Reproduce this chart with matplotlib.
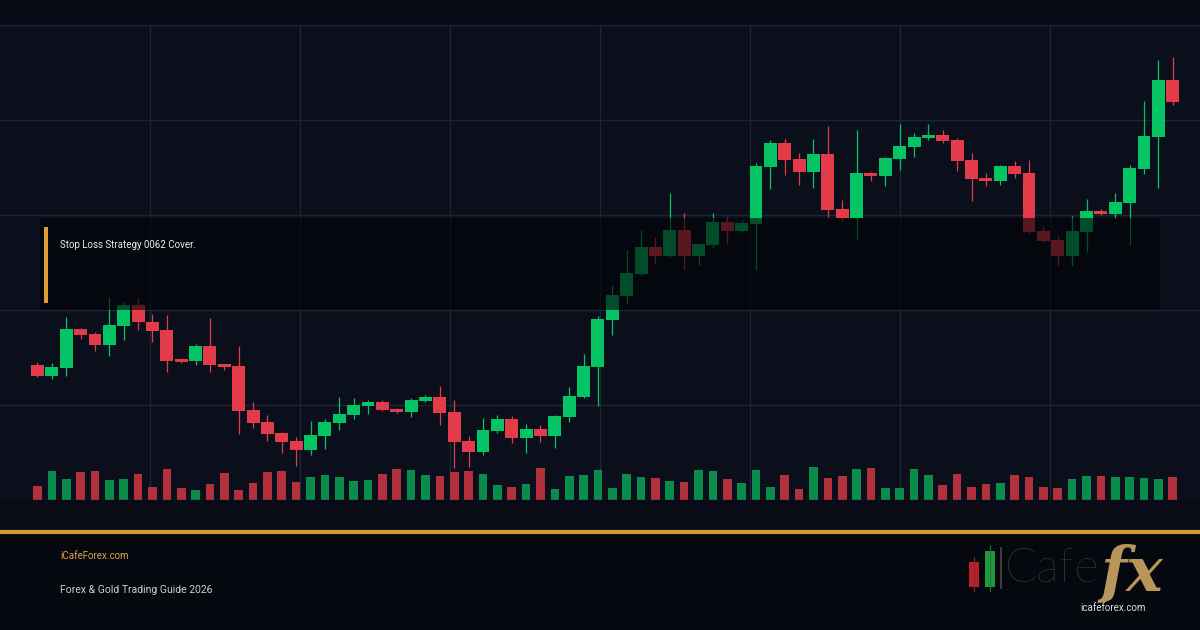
import numpy as np
import matplotlib
matplotlib.use("Agg")
import matplotlib.pyplot as plt
from matplotlib.patches import Rectangle
from matplotlib.lines import Line2D

plt.rcParams['font.family'] = ['Roboto', 'DejaVu Sans']

# candle data (price units)
opens = [2014.2, 2013.1, 2013.9, 2018.0, 2017.5, 2016.3, 2018.3, 2020.5, 2018.7, 2017.9,
         2014.8, 2014.6, 2016.2, 2014.3, 2014.1, 2009.5, 2008.2, 2007.1, 2006.2, 2005.3,
         2006.7, 2008.1, 2008.9, 2009.9, 2010.3, 2009.6, 2009.3, 2010.4, 2010.8, 2009.3,
         2006.2, 2005.1, 2007.3, 2008.5, 2006.5, 2007.5, 2006.7, 2008.7, 2010.8, 2014.0,
         2018.9, 2021.5, 2023.8, 2026.6, 2025.7, 2028.4, 2025.7, 2026.8, 2029.3, 2028.3,
         2029.1, 2035.1, 2037.6, 2035.9, 2034.5, 2036.4, 2030.6, 2029.7, 2034.4, 2034.1,
         2035.9, 2037.2, 2038.1, 2038.4, 2037.9, 2035.8, 2033.9, 2033.6, 2035.2, 2034.4,
         2028.3, 2027.4, 2025.7, 2028.2, 2030.4, 2030.1, 2031.3, 2034.8, 2038.2, 2044.2]
highs = [2014.5, 2014.4, 2019.3, 2018.1, 2017.7, 2021.4, 2020.8, 2021.3, 2019.6, 2019.5,
         2014.9, 2016.4, 2019.2, 2014.3, 2016.2, 2010.3, 2008.9, 2007.2, 2006.6, 2008.3,
         2008.5, 2010.8, 2010.7, 2010.5, 2010.5, 2009.7, 2010.7, 2011.1, 2012.0, 2010.5,
         2006.7, 2008.6, 2008.9, 2008.8, 2008.0, 2007.9, 2008.9, 2011.9, 2015.4, 2019.4,
         2022.6, 2026.3, 2028.4, 2027.7, 2032.3, 2030.2, 2027.1, 2030.2, 2029.8, 2029.5,
         2035.5, 2037.9, 2038.0, 2036.5, 2038.0, 2039.4, 2031.6, 2038.9, 2034.5, 2036.1,
         2039.6, 2038.6, 2039.6, 2038.9, 2038.1, 2036.5, 2034.4, 2035.3, 2035.7, 2035.8,
         2028.8, 2027.8, 2029.9, 2031.7, 2030.6, 2032.3, 2035.3, 2042.0, 2046.3, 2046.6]
lows = [2012.9, 2012.7, 2013.1, 2016.9, 2015.7, 2015.2, 2016.8, 2017.9, 2016.6, 2013.5,
        2014.4, 2014.2, 2013.5, 2013.7, 2006.9, 2007.6, 2006.2, 2004.9, 2003.6, 2004.7,
        2005.4, 2007.4, 2008.5, 2009.1, 2009.4, 2009.2, 2008.7, 2010.3, 2007.9, 2003.4,
        2003.5, 2004.7, 2007.1, 2006.0, 2004.9, 2006.1, 2005.5, 2008.2, 2010.7, 2009.9,
        2017.4, 2020.7, 2023.7, 2024.9, 2025.6, 2024.3, 2024.7, 2026.6, 2026.9, 2028.2,
        2024.2, 2032.7, 2034.2, 2033.2, 2032.8, 2029.8, 2029.4, 2027.4, 2033.6, 2033.1,
        2034.7, 2036.1, 2037.9, 2037.6, 2034.6, 2031.5, 2033.1, 2033.2, 2033.9, 2028.1,
        2027.2, 2024.7, 2024.6, 2026.1, 2030.0, 2029.7, 2026.8, 2034.3, 2032.8, 2041.6]
closes = [2013.1, 2014.0, 2018.0, 2017.4, 2016.3, 2018.4, 2020.5, 2018.7, 2017.8, 2014.6,
          2014.5, 2016.2, 2014.2, 2014.0, 2009.4, 2008.1, 2006.9, 2006.1, 2005.3, 2006.8,
          2008.2, 2009.1, 2010.0, 2010.3, 2009.5, 2009.3, 2010.5, 2010.8, 2009.2, 2006.1,
          2005.1, 2007.4, 2008.5, 2006.5, 2007.5, 2006.7, 2008.8, 2010.9, 2014.1, 2019.1,
          2021.6, 2023.9, 2026.6, 2025.7, 2028.4, 2025.7, 2026.9, 2029.3, 2028.3, 2029.2,
          2035.2, 2037.6, 2035.8, 2034.5, 2036.4, 2030.5, 2029.7, 2034.4, 2034.1, 2036.0,
          2037.3, 2038.2, 2038.4, 2037.8, 2035.7, 2033.8, 2033.6, 2035.2, 2034.3, 2028.2,
          2027.3, 2025.7, 2028.3, 2030.4, 2030.1, 2031.4, 2034.9, 2038.3, 2044.2, 2041.9]
volumes = [42, 86, 62, 83, 86, 59, 62, 78, 39, 92,
           35, 29, 47, 81, 29, 50, 83, 86, 53, 68,
           74, 68, 56, 59, 77, 92, 89, 74, 71, 83,
           86, 77, 44, 38, 47, 95, 32, 71, 74, 89,
           35, 77, 68, 65, 56, 53, 89, 86, 62, 50,
           89, 38, 74, 32, 98, 65, 71, 92, 95, 35,
           35, 92, 74, 44, 77, 38, 47, 50, 74, 68,
           38, 35, 62, 71, 71, 68, 68, 65, 62, 68]

note_text = "Stop Loss Strategy 0062 Cover."
site_text = "iCafeForex.com"
guide_text = "Forex & Gold Trading Guide 2026"

GREEN = '#05c463'
RED = '#e33b49'
VGREEN = '#0a8c4d'
VRED = '#b3313d'
GRID = '#1f2535'

W, H = 1200, 630


def fy(py):
    # pixel row from top -> figure fraction
    return (H - py) / H


def draw_candles(ax):
    x = np.arange(len(opens))
    o = np.array(opens)
    c = np.array(closes)
    cols = np.where(c >= o, GREEN, RED)
    ax.vlines(x, lows, highs, colors=cols, linewidth=0.9, zorder=3)
    bottoms = np.minimum(o, c)
    heights = np.maximum(np.abs(c - o), 0.25)
    ax.bar(x, heights, bottom=bottoms, width=0.9, color=cols, zorder=4)


def main():
    fig = plt.figure(figsize=(12, 6.3), dpi=100, facecolor='#06080f')

    # background bands
    fig.add_artist(Rectangle((0, fy(25)), 1, 25 / H, transform=fig.transFigure,
                             facecolor='#080b15', edgecolor='none', zorder=0))
    fig.add_artist(Rectangle((0, fy(530)), 1, 30 / H, transform=fig.transFigure,
                             facecolor='#090c16', edgecolor='none', zorder=0))

    n = len(opens)
    x0, x1 = -37.5 / 14.37, (W - 37.5) / 14.37

    # volume axis underneath
    vax = fig.add_axes([0, fy(500), 1, 475 / H])
    vax.set_facecolor('#0b0f1c')
    vax.set_xlim(x0, x1)
    vax.set_ylim(0, 1410)
    for k in range(1, 8):
        vax.axvline(x0 + k * (x1 - x0) / 8, color=GRID, linewidth=1, zorder=1)
    vcols = np.where(np.array(closes) >= np.array(opens), VGREEN, VRED)
    vax.bar(np.arange(n), volumes, width=0.6, color=vcols, zorder=2)

    # price axis on top
    ax = fig.add_axes([0, fy(500), 1, 475 / H], sharex=vax)
    ax.patch.set_visible(False)
    ax.set_ylim(2000, 2050)
    for yv in range(2000, 2051, 10):
        ax.axhline(yv, color=GRID, linewidth=1, zorder=1)
    draw_candles(ax)

    for a in (ax, vax):
        a.set_xticks([])
        a.set_yticks([])
        for s in a.spines.values():
            s.set_visible(False)

    # dark note box
    fig.add_artist(Rectangle((40 / W, fy(310)), 1120 / W, 92 / H,
                             transform=fig.transFigure, facecolor='#020306',
                             edgecolor='none', alpha=0.62, zorder=10))
    fig.add_artist(Rectangle((44 / W, fy(303)), 4 / W, 76 / H,
                             transform=fig.transFigure, facecolor='#e09f35',
                             edgecolor='none', zorder=11))
    fig.text(60 / W, fy(245), note_text, color='#ededed', fontsize=7,
             va='center', ha='left', zorder=12)

    # footer
    fig.add_artist(Line2D([0, 1], [fy(532), fy(532)], transform=fig.transFigure,
                          color='#d39a3a', linewidth=3, zorder=12))
    fig.text(60 / W, fy(556), site_text, color='#dca14a', fontsize=7,
             va='center', ha='left')
    fig.text(60 / W, fy(590), guide_text, color='#cfcfcf', fontsize=7.5,
             va='center', ha='left')

    # logo
    fig.add_artist(Line2D([974 / W, 974 / W], [fy(591), fy(557)], transform=fig.transFigure,
                          color='#9a1e24', linewidth=0.8))
    fig.add_artist(Rectangle((969 / W, fy(587)), 10 / W, 25 / H, transform=fig.transFigure,
                             facecolor='#b3222b', edgecolor='none'))
    fig.add_artist(Line2D([990 / W, 990 / W], [fy(591), fy(545)], transform=fig.transFigure,
                          color='#1d7a35', linewidth=0.8))
    fig.add_artist(Rectangle((985 / W, fy(587)), 10 / W, 36 / H, transform=fig.transFigure,
                             facecolor='#239640', edgecolor='none'))
    fig.add_artist(Line2D([1001 / W, 1001 / W], [fy(588), fy(548)], transform=fig.transFigure,
                          color='#4a4a4a', linewidth=1.2))
    fig.text(1005 / W, fy(569), "Cafe", color='#4a4a4a', fontsize=34,
             family=['Lato', 'DejaVu Sans'], fontweight='light', va='center', ha='left')
    fig.text(1101 / W, fy(574), "fx", color='#b8955a', fontsize=44,
             family=['DejaVu Serif'], fontweight='bold', style='italic',
             va='center', ha='left', zorder=5)
    fig.text(1113 / W, fy(608), "icafeforex.com", color='#e0e0e0', fontsize=7,
             va='center', ha='center', zorder=6)

    fig.savefig('out.png', dpi=100, facecolor=fig.get_facecolor())


if __name__ == "__main__":
    main()
